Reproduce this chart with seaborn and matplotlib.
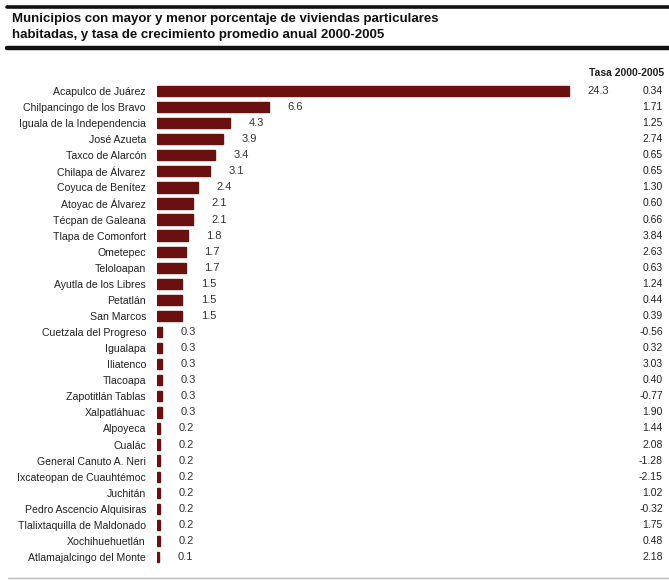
import matplotlib
matplotlib.use("Agg")
import matplotlib.pyplot as plt
import seaborn as sns
import pandas as pd

municipios = [
    "Acapulco de Juárez", "Chilpancingo de los Bravo", "Iguala de la Independencia",
    "José Azueta", "Taxco de Alarcón", "Chilapa de Álvarez", "Coyuca de Benítez",
    "Atoyac de Álvarez", "Técpan de Galeana", "Tlapa de Comonfort", "Ometepec",
    "Teloloapan", "Ayutla de los Libres", "Petatlán", "San Marcos",
    "Cuetzala del Progreso", "Igualapa", "Iliatenco", "Tlacoapa", "Zapotitlán Tablas",
    "Xalpatláhuac", "Alpoyeca", "Cualác", "General Canuto A. Neri",
    "Ixcateopan de Cuauhtémoc", "Juchitán", "Pedro Ascencio Alquisiras",
    "Tlalixtaquilla de Maldonado", "Xochihuehuetlán", "Atlamajalcingo del Monte",
]
porcentaje = [24.3, 6.6, 4.3, 3.9, 3.4, 3.1, 2.4, 2.1, 2.1, 1.8, 1.7, 1.7, 1.5, 1.5, 1.5,
              0.3, 0.3, 0.3, 0.3, 0.3, 0.3, 0.2, 0.2, 0.2, 0.2, 0.2, 0.2, 0.2, 0.2, 0.1]
tasa = ["0.34", "1.71", "1.25", "2.74", "0.65", "0.65", "1.30", "0.60", "0.66", "3.84",
        "2.63", "0.63", "1.24", "0.44", "0.39", "-0.56", "0.32", "3.03", "0.40", "-0.77",
        "1.90", "1.44", "2.08", "-1.28", "-2.15", "1.02", "-0.32", "1.75", "0.48", "2.18"]

df = pd.DataFrame({"municipio": municipios, "porcentaje": porcentaje})

sns.set_style("white")
plt.rcParams["font.family"] = ["Liberation Sans", "DejaVu Sans"]

W, H = 669, 580
fig = plt.figure(figsize=(W / 100, H / 100), dpi=100)

# bars start at x=157, 24.3 ends near x=570
x0, x_end = 157, 569
row_top, row_bot = 91, 557
step = (row_bot - row_top) / 29
ax = fig.add_axes([x0 / W, 1 - (row_bot + step / 2) / H,
                   (W - x0) / W, (row_bot - row_top + step) / H])

sns.barplot(data=df, x="porcentaje", y="municipio", orient="h",
            color="#6b1010", saturation=1, width=0.64, ax=ax,
            edgecolor="#6b1010", linewidth=1.0)
ax.set_xlim(0, 24.3 * (W - x0) / (x_end - x0))
ax.set_ylim(29.5, -0.5)
ax.set_xlabel("")
ax.set_ylabel("")
ax.set_xticks([])
ax.tick_params(axis="y", length=0, pad=8, labelsize=7.6, labelcolor="#222222")
for s in ax.spines.values():
    s.set_visible(False)

for i, (v, t) in enumerate(zip(porcentaje, tasa)):
    ax.text(v + 1.1, i, f"{v:.1f}", va="center", ha="left", fontsize=8, color="#333333")
    ax.text(0.988, i, t, va="center", ha="right", fontsize=7.5, color="#222222",
            transform=ax.get_yaxis_transform())

fig.text(664 / W, 1 - 73 / H, "Tasa 2000-2005", ha="right", va="center",
         fontsize=7.5, fontweight="bold", color="#222222")

# title and rules
fig.text(12 / W, 1 - 19 / H, "Municipios con mayor y menor porcentaje de viviendas particulares",
         ha="left", va="center", fontsize=9.5, fontweight="bold", color="#111111")
fig.text(12 / W, 1 - 35 / H, "habitadas, y tasa de crecimiento promedio anual 2000-2005",
         ha="left", va="center", fontsize=9.5, fontweight="bold", color="#111111")
fig.add_artist(plt.Line2D([7 / W, 1], [1 - 6.5 / H] * 2, color="#111111", lw=2.6))
fig.add_artist(plt.Line2D([7 / W, 1], [1 - 48 / H] * 2, color="#111111", lw=3.2))
fig.add_artist(plt.Line2D([8 / W, 1], [1 - 578 / H] * 2, color="#bbbbbb", lw=1))

fig.savefig("out.png", dpi=100)
